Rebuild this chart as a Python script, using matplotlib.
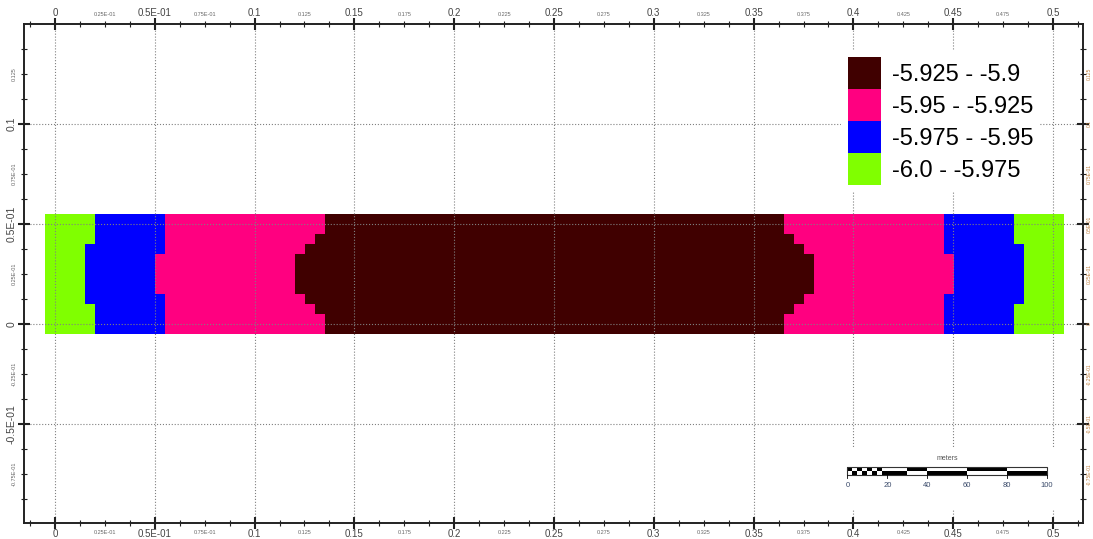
import numpy as np
import matplotlib
matplotlib.use("Agg")
import matplotlib.pyplot as plt
import matplotlib.transforms as mtransforms
from matplotlib.colors import ListedColormap
from matplotlib.patches import Patch, Rectangle
from matplotlib.ticker import FixedLocator, FuncFormatter

plt.rcParams['font.family'] = ['Liberation Sans Narrow', 'Liberation Sans', 'DejaVu Sans']

### classes (low -> high) and their fill colours
class_labels = ["-6.0 - -5.975", "-5.975 - -5.95", "-5.95 - -5.925", "-5.925 - -5.9"]
class_colors = ["#80ff00", "#0000ff", "#ff0080", "#400000"]

### raster rows, top to bottom: run lengths (cells) of each class along the row
run_classes = [0, 1, 2, 3, 2, 1, 0]
row_runs = [
    [5, 7, 16, 46, 16, 7, 5],
    [5, 7, 16, 46, 16, 7, 5],
    [5, 7, 15, 48, 15, 7, 5],
    [4, 8, 14, 50, 14, 8, 4],
    [4, 7, 14, 52, 14, 7, 4],
    [4, 7, 14, 52, 14, 7, 4],
    [4, 7, 14, 52, 14, 7, 4],
    [4, 7, 14, 52, 14, 7, 4],
    [4, 8, 14, 50, 14, 8, 4],
    [5, 7, 15, 48, 15, 7, 5],
    [5, 7, 16, 46, 16, 7, 5],
    [5, 7, 16, 46, 16, 7, 5],
]

### axis tick labels
x_major_labels = ["0", "0.5E-01", "0.1", "0.15", "0.2", "0.25", "0.3", "0.35", "0.4", "0.45", "0.5"]
x_minor_labels = ["0.25E-01", "0.75E-01", "0.125", "0.175", "0.225", "0.275",
                  "0.325", "0.375", "0.425", "0.475"]
y_major_labels = ["-0.5E-01", "0", "0.5E-01", "0.1"]
y_minor_labels = ["-0.75E-01", "-0.25E-01", "0.25E-01", "0.75E-01", "0.125"]

### scale bar
scale_labels = [0, 20, 40, 60, 80, 100]
scale_breaks = [20, 30, 40, 60, 80, 100]

grid = np.array([np.repeat(run_classes, runs) for runs in row_runs])

fig = plt.figure(figsize=(10.93, 5.39), dpi=100)
ax = fig.add_axes([24/1093, 16/539, 1059/1093, 499/539])

ax.imshow(grid, cmap=ListedColormap(class_colors), vmin=-0.5, vmax=3.5,
          extent=(-0.005, 0.505, -0.005, 0.055), origin='upper',
          interpolation='nearest', aspect='auto', zorder=1)

ax.set_xlim(-0.0155, 0.515)
ax.set_ylim(-0.0995, 0.15)

### ticks
x_major = np.arange(0, 0.501, 0.05)
x_lab_minor = np.arange(0.025, 0.5, 0.05)
x_minor = [v for v in np.arange(-0.0125, 0.515, 0.0125) if abs(v / 0.05 - round(v / 0.05)) > 1e-6]
y_major = np.arange(-0.05, 0.101, 0.05)
y_lab_minor = np.arange(-0.075, 0.13, 0.05)
y_minor = [v for v in np.arange(-0.0875, 0.14, 0.0125) if abs(v / 0.05 - round(v / 0.05)) > 1e-6]

def lookup(locs, labels):
    table = {round(float(v), 4): s for v, s in zip(locs, labels)}
    return FuncFormatter(lambda v, pos: table.get(round(float(v), 4), ""))

ax.xaxis.set_major_locator(FixedLocator(x_major))
ax.xaxis.set_major_formatter(lookup(x_major, x_major_labels))
ax.xaxis.set_minor_locator(FixedLocator(x_minor))
ax.xaxis.set_minor_formatter(lookup(x_lab_minor, x_minor_labels))
ax.yaxis.set_major_locator(FixedLocator(y_major))
ax.yaxis.set_major_formatter(lookup(y_major, y_major_labels))
ax.yaxis.set_minor_locator(FixedLocator(y_minor))
ax.yaxis.set_minor_formatter(lookup(y_lab_minor, y_minor_labels))

ax.tick_params(which='both', direction='inout', top=True, bottom=True, left=True, right=True,
               labeltop=True, labelbottom=True, labelleft=True, labelright=False, color='#222222')
ax.tick_params(which='major', length=8.5, width=1.5, pad=1, labelsize=7.5, labelcolor='#444444')
ax.tick_params(which='minor', length=4.5, width=0.8, pad=3, labelsize=4, labelcolor='#666666')
ax.tick_params(axis='x', which='major', pad=0.3, labelsize=7)
ax.tick_params(axis='y', which='both', labelrotation=90)
for t in ax.yaxis.get_major_ticks() + ax.yaxis.get_minor_ticks():
    t.label1.set_verticalalignment('center')

### right-hand labels squeezed against the figure edge
trans = mtransforms.blended_transform_factory(fig.transFigure, ax.transData)
for v, s in list(zip(y_major, y_major_labels)) + list(zip(y_lab_minor, y_minor_labels)):
    ax.text(1089.5/1093, v, s, transform=trans, rotation=90, ha='center', va='center',
            fontsize=3.5, color='#c08040', clip_on=False)

for s in ax.spines.values():
    s.set_linewidth(1.4)
    s.set_color('#222222')

ax.grid(True, which='major', linestyle=':', color='#808080', linewidth=0.8)
ax.set_axisbelow(False)

### white boxes behind legend and scale bar
ax.add_patch(Rectangle((0.3943, -0.093), 0.1082, 0.0315, fc='white', ec='none', zorder=3))

handles = [Patch(fc=c, ec='none') for c in class_colors[::-1]]
leg = ax.legend(handles, class_labels[::-1], loc='upper left',
                bbox_to_anchor=(841/1093, 1 - 50/539), bbox_transform=fig.transFigure,
                frameon=True, facecolor='white', edgecolor='none', framealpha=1,
                fancybox=False, handlelength=1.4, handleheight=1.71,
                handletextpad=0.45, labelspacing=0, borderpad=0.3, borderaxespad=0,
                prop={'family': 'Liberation Sans', 'size': 17})
leg.set_zorder(6)

### scale bar (1 m -> 0.001 units)
x0, y0, h = 0.397, -0.0755, 0.002
def mx(m):
    return x0 + m * 0.001
ncheck = 8
for i in range(ncheck):
    w = 20 / ncheck
    for j in range(2):
        col = 'black' if (i + j) % 2 == 0 else 'white'
        ax.add_patch(Rectangle((mx(i * w), y0 + (1 - j) * h), w * 0.001, h,
                               fc=col, ec='none', zorder=4))
for k in range(len(scale_breaks) - 1):
    a, b = scale_breaks[k], scale_breaks[k + 1]
    top = 'white' if k % 2 == 0 else 'black'
    bot = 'black' if k % 2 == 0 else 'white'
    ax.add_patch(Rectangle((mx(a), y0 + h), (b - a) * 0.001, h, fc=top, ec='none', zorder=4))
    ax.add_patch(Rectangle((mx(a), y0), (b - a) * 0.001, h, fc=bot, ec='none', zorder=4))
ax.add_patch(Rectangle((mx(0), y0), 0.1, 2 * h, fc='none', ec='#333333', lw=0.8, zorder=5))
for m in scale_labels:
    ax.plot([mx(m), mx(m)], [y0, y0 - 0.0015], color='black', lw=0.6, zorder=5)
    ax.text(mx(m), y0 - 0.0035, str(m), ha='center', va='top', fontsize=5.5,
            color='#3a4a6a', zorder=5)
ax.text(mx(50), y0 + 2 * h + 0.0025, "meters", ha='center', va='bottom', fontsize=5,
        color='#555555', zorder=5)

fig.savefig("out.png", dpi=100)
